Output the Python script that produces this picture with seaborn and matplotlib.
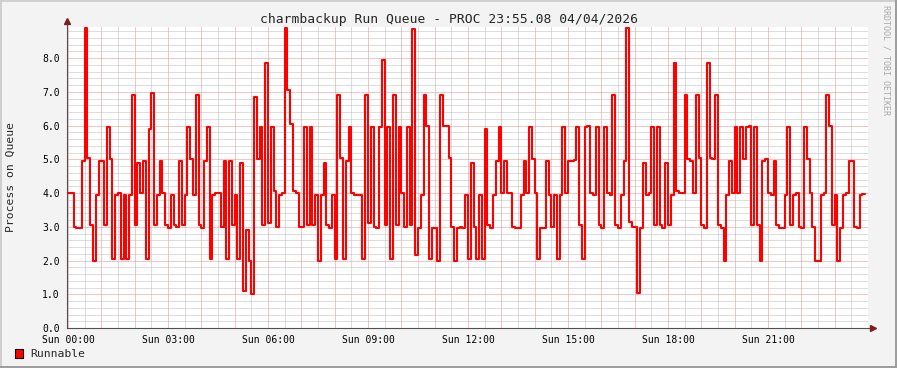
import numpy as np
import pandas as pd
import matplotlib
matplotlib.use("Agg")
import matplotlib.pyplot as plt
import seaborn as sns
from matplotlib.patches import Rectangle
from matplotlib.ticker import MultipleLocator, FuncFormatter

# texts
title = "charmbackup Run Queue - PROC 23:55.08 04/04/2026"
y_label = "Process on Queue"
series_name = "Runnable"
watermark = "RRDTOOL / TOBI OETIKER"

# 5-minute averages (00:00 -> 23:55)
step_minutes = 5
run_queue = [
    4.0, 4.0, 3.0, 2.95, 2.95, 4.95, 8.9, 5.05, 3.05, 2.0,
    3.95, 4.95, 4.95, 3.05, 5.95, 5.0, 2.05, 3.95, 4.0, 2.05,
    3.95, 2.05, 3.95, 6.9, 3.05, 4.9, 4.0, 4.95, 2.05, 5.9,
    6.95, 3.05, 3.95, 4.95, 4.0, 3.05, 2.97, 3.95, 3.05, 2.98,
    4.95, 3.05, 3.95, 5.95, 5.0, 3.95, 6.9, 3.05, 2.95, 4.95,
    5.95, 2.05, 3.95, 4.0, 4.0, 3.0, 4.95, 2.05, 4.95, 3.05,
    3.95, 2.05, 4.9, 1.1, 2.9, 2.0, 1.0, 6.85, 5.0, 5.95,
    3.05, 7.85, 3.1, 5.95, 4.05, 3.0, 3.95, 4.0, 8.9, 7.05,
    6.05, 4.05, 4.0, 3.0, 3.0, 5.95, 3.05, 5.95, 3.05, 3.95,
    2.0, 3.95, 4.9, 3.05, 2.95, 3.95, 2.05, 6.9, 5.05, 2.05,
    4.95, 5.95, 4.0, 3.95, 3.95, 3.95, 2.05, 6.9, 3.1, 5.95,
    3.0, 2.95, 5.95, 7.95, 3.05, 5.95, 2.05, 6.9, 3.05, 5.95,
    4.0, 3.0, 5.95, 3.05, 8.85, 2.15, 2.95, 3.95, 6.9, 6.0,
    2.05, 2.95, 2.95, 2.0, 6.9, 6.0, 5.98, 5.05, 3.0, 2.0,
    2.95, 2.98, 2.95, 3.95, 2.05, 4.9, 3.0, 2.05, 3.95, 2.05,
    5.9, 3.05, 2.95, 3.95, 4.95, 5.95, 4.0, 4.95, 4.0, 4.0,
    3.0, 2.95, 2.95, 3.95, 4.95, 4.0, 5.95, 5.0, 4.0, 2.05,
    2.95, 2.97, 4.95, 3.95, 3.0, 3.95, 2.05, 3.95, 5.95, 4.0,
    4.95, 4.95, 4.98, 5.95, 3.05, 2.05, 5.95, 5.98, 4.0, 3.95,
    5.95, 3.05, 2.95, 5.95, 4.0, 3.95, 6.9, 3.05, 2.95, 3.95,
    4.95, 8.9, 3.15, 3.0, 3.0, 1.05, 2.95, 4.9, 3.95, 4.0,
    5.95, 3.05, 5.95, 3.05, 2.95, 4.9, 3.05, 3.95, 7.85, 4.05,
    4.0, 4.0, 6.9, 5.0, 4.95, 4.0, 6.9, 5.05, 3.05, 2.95,
    7.85, 5.05, 5.0, 6.9, 3.05, 2.95, 2.0, 3.95, 4.95, 4.0,
    5.95, 4.0, 5.95, 5.0, 5.95, 5.98, 3.05, 5.95, 3.05, 2.0,
    4.95, 5.0, 4.0, 3.95, 4.95, 3.05, 2.97, 2.97, 3.95, 5.95,
    3.05, 3.95, 4.0, 3.0, 2.97, 5.95, 5.0, 4.0, 3.0, 2.0,
    1.98, 3.95, 4.0, 6.9, 6.0, 3.05, 3.95, 2.0, 2.95, 3.95,
    4.0, 4.95, 4.95, 3.0, 2.97, 3.95, 3.98,
]

x_tick_hours = [0, 3, 6, 9, 12, 15, 18, 21]
x_tick_labels = ["Sun 00:00", "Sun 03:00", "Sun 06:00", "Sun 09:00",
                 "Sun 12:00", "Sun 15:00", "Sun 18:00", "Sun 21:00"]

sns.set_theme(style="white")
plt.rcParams["font.family"] = ["DejaVu Sans Mono"]

# step line needs a closing point for the last interval
df = pd.DataFrame({
    "minute": np.arange(len(run_queue) + 1) * step_minutes,
    "queue": run_queue + run_queue[-1:],
})

W, H = 897, 368
fig = plt.figure(figsize=(W / 100, H / 100), dpi=100, facecolor="#F3F3F3")
ax = fig.add_axes([67 / W, 1 - 328 / H, 801 / W, 301 / H])
ax.set_facecolor("white")
ax.set_axisbelow(True)

sns.lineplot(data=df, x="minute", y="queue", drawstyle="steps-post",
             color="#FF0000", lw=1.5, estimator=None, ax=ax, zorder=5)

ax.set_xlim(-1.8, 1440)
ax.set_ylim(0, 8.92)

label_map = {h * 60: lab for h, lab in zip(x_tick_hours, x_tick_labels)}
ax.xaxis.set_major_locator(MultipleLocator(60))
ax.xaxis.set_minor_locator(MultipleLocator(30))
ax.xaxis.set_major_formatter(FuncFormatter(lambda v, p: label_map.get(int(round(v)), "")))
ax.yaxis.set_major_locator(MultipleLocator(1))
ax.yaxis.set_minor_locator(MultipleLocator(0.2))
ax.yaxis.set_major_formatter(FuncFormatter(lambda v, p: f"{v:.1f}"))

dots = (0, (1, 1))
ax.grid(which="minor", color="#BDBDBD", ls=dots, lw=0.72)
ax.grid(which="major", color="#EE8C8C", ls=dots, lw=0.72)

for s in ["top", "right"]:
    ax.spines[s].set_visible(False)
for s in ["left", "bottom"]:
    ax.spines[s].set_color("#505050")
    ax.spines[s].set_linewidth(0.8)

ax.tick_params(which="both", direction="inout", color="#606060", width=0.7,
               labelsize=7, labelcolor="black")
ax.tick_params(which="major", length=4.3, pad=3)
ax.tick_params(which="minor", length=2.9)
ax.set_xlabel("")
ax.set_ylabel("")

# axis arrows
ax.plot([0, 0], [1, 1 + 6 / 301], transform=ax.transAxes, clip_on=False,
        color="#505050", lw=0.8)
ax.plot([0], [1 + 6 / 301], transform=ax.transAxes, clip_on=False,
        marker="^", ms=4.5, color="#7F1F1F", mec="#7F1F1F")
ax.plot([1, 1 + 5 / 801], [0, 0], transform=ax.transAxes, clip_on=False,
        color="#505050", lw=0.8)
ax.plot([1 + 5 / 801], [0], transform=ax.transAxes, clip_on=False,
        marker=">", ms=4.5, color="#7F1F1F", mec="#7F1F1F")

fig.text(0.5, 1 - 19 / H, title, ha="center", va="center", fontsize=9.4)
fig.text(11 / W, 1 - 177.5 / H, y_label, rotation=90, ha="center",
         va="center", fontsize=8.2)
fig.text(886 / W, 1 - 5 / H, watermark, rotation=270, ha="center", va="top",
         fontsize=6, color="#A8A8A8")

# legend
fig.add_artist(Rectangle((15 / W, 1 - 358 / H), 8 / W, 9 / H,
                         transform=fig.transFigure, fc="#FF0000",
                         ec="black", lw=0.8))
fig.text(30 / W, 1 - 354 / H, series_name, ha="left", va="center", fontsize=8.2)

# rrdtool-style shaded frame
fig.add_artist(Rectangle((0, 1 - 2 / H), 1, 2 / H, transform=fig.transFigure,
                         fc="#CFCFCF", ec="none"))
fig.add_artist(Rectangle((0, 0), 2 / W, 1, transform=fig.transFigure,
                         fc="#CFCFCF", ec="none"))
fig.add_artist(Rectangle((0, 0), 1, 2 / H, transform=fig.transFigure,
                         fc="#9E9E9E", ec="none"))
fig.add_artist(Rectangle((1 - 2 / W, 0), 2 / W, 1, transform=fig.transFigure,
                         fc="#9E9E9E", ec="none"))

fig.savefig("out.png", dpi=100, facecolor=fig.get_facecolor())
